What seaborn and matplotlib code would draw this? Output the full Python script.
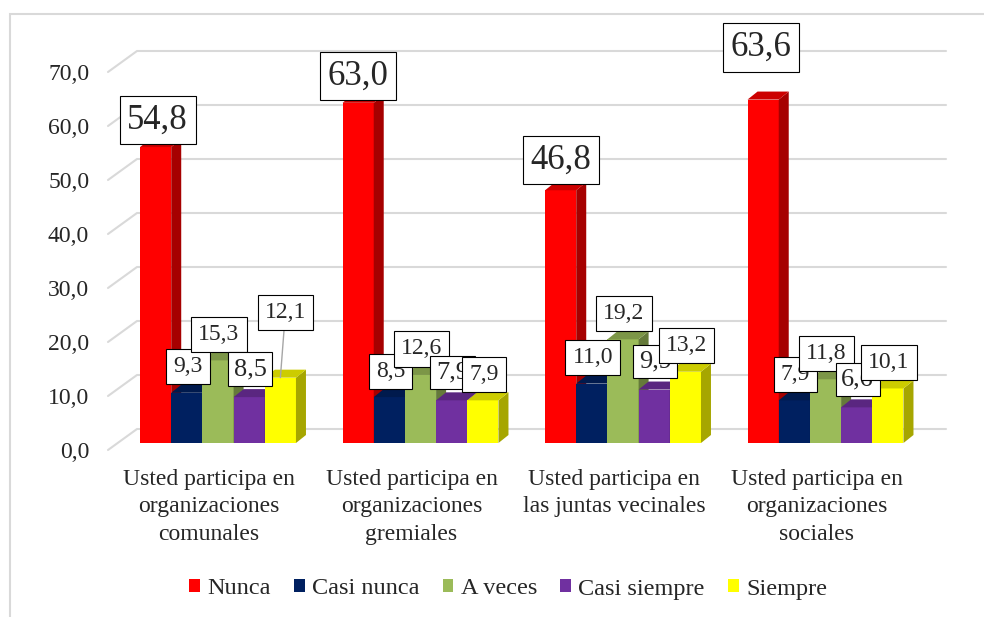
import numpy as np
import pandas as pd
import matplotlib
matplotlib.use('Agg')
import matplotlib.pyplot as plt
import seaborn as sns
from matplotlib.patches import Polygon, Patch, Rectangle
from matplotlib.transforms import ScaledTranslation

# data
items = ["Usted participa en\norganizaciones\ncomunales",
         "Usted participa en\norganizaciones\ngremiales",
         "Usted participa en\nlas juntas vecinales",
         "Usted participa en\norganizaciones\nsociales"]
responses = ["Nunca", "Casi nunca", "A veces", "Casi siempre", "Siempre"]
nunca = [54.8, 63.0, 46.8, 63.6]
casi_nunca = [9.3, 8.5, 11.0, 7.9]
a_veces = [15.3, 12.6, 19.2, 11.8]
casi_siempre = [8.5, 7.9, 9.9, 6.6]
siempre = [12.1, 7.9, 13.2, 10.1]
yticks = [0, 10, 20, 30, 40, 50, 60, 70]

colors = ["#FF0000", "#002060", "#9BBB59", "#7030A0", "#FFFF00"]

series = [nunca, casi_nunca, a_veces, casi_siempre, siempre]
rows = []
for r, vals in zip(responses, series):
    for it, v in zip(items, vals):
        rows.append({"item": it, "resp": r, "pct": v})
df = pd.DataFrame(rows)

sns.set_style("white")
plt.rcParams['font.family'] = ['Liberation Serif', 'DejaVu Serif']

fig = plt.figure(figsize=(9.84, 6.17), dpi=100)
ax = fig.add_axes([108/984, (617-443)/617, 838/984, 378/617])

sns.barplot(data=df, x="item", y="pct", hue="resp", order=items, hue_order=responses,
            palette=colors, saturation=1, width=0.77, errorbar=None, linewidth=0,
            legend=False, ax=ax)

ax.set_xlim(-0.5432, 3.595)
ax.set_ylim(0, 70)
sns.despine(ax=ax, left=True, bottom=True)
ax.set_xlabel("")
ax.set_ylabel("")
ax.set_yticks(yticks)
ax.set_yticklabels([f"{v:.1f}".replace('.', ',') for v in yticks])
ax.tick_params(axis='y', length=0, pad=13.5, labelsize=17)
ax.tick_params(axis='x', length=0, pad=19, labelsize=17)
for lab in ax.get_xticklabels():
    lab.set_linespacing(1.38)
    lab.set_transform(lab.get_transform() + ScaledTranslation(-9/100, 0, fig.dpi_scale_trans))
for lab in ax.get_yticklabels():
    lab.set_transform(lab.get_transform() + ScaledTranslation(0, -7/100, fig.dpi_scale_trans))

# pixel -> data scale
p0 = ax.transData.transform((0, 0))
p1 = ax.transData.transform((1, 1))
ppx = p1[0] - p0[0]
ppy = p1[1] - p0[1]
x0, x1 = ax.get_xlim()

# 3d-ish gridlines (front edge, side wall, back wall)
for v in yticks:
    ax.plot([x0, x0 + 29/ppx, x1], [v - 7/ppy, v + 14/ppy, v + 14/ppy],
            color='#D9D9D9', lw=1.5, zorder=0.5, clip_on=False)

# bar depth faces
ddx = 10/ppx
ddy = 8/ppy
for k, cont in enumerate(ax.containers):
    base = np.array(matplotlib.colors.to_rgb(colors[k]))
    side_c = base * 0.65
    top_c = base * 0.8
    for bar in cont:
        bx, bw, bh = bar.get_x(), bar.get_width(), bar.get_height()
        bar.set_zorder(3 + k)
        side = Polygon([(bx + bw, 0), (bx + bw, bh), (bx + bw + ddx, bh + ddy), (bx + bw + ddx, ddy)],
                       closed=True, fc=side_c, ec='none', zorder=3 + k, clip_on=False)
        top = Polygon([(bx, bh), (bx + bw, bh), (bx + bw + ddx, bh + ddy), (bx + ddx, bh + ddy)],
                      closed=True, fc=top_c, ec='none', zorder=3 + k, clip_on=False)
        ax.add_patch(side)
        ax.add_patch(top)

# data labels
label_sizes = [25, 17, 17, 19, 17]
label_pads = [0.22, 0.3, 0.3, 0.22, 0.3]
special = {(0, 0): (2, 27), (0, 1): (0, 27), (0, 2): (0, 30), (0, 3): (-2, 52), (4, 0): (5, 65)}
for k, cont in enumerate(ax.containers):
    for bar in cont:
        cx = bar.get_x() + bar.get_width() / 2
        g = int(round(cx))
        h = bar.get_height()
        dx, dy = special.get((k, g), (1, 28 if k == 3 else 26))
        txt = f"{h:.1f}".replace('.', ',')
        kw = {}
        if (k, g) == (4, 0):
            kw['arrowprops'] = dict(arrowstyle='-', color='#A6A6A6', lw=1, shrinkA=0, shrinkB=0)
        ax.annotate(txt, xy=(cx, h), xytext=(dx, dy), textcoords='offset pixels',
                    ha='center', va='center', fontsize=label_sizes[k], zorder=10 + k,
                    bbox=dict(boxstyle=f'square,pad={label_pads[k]}', fc='white', ec='black', lw=0.8),
                    annotation_clip=False, **kw)

# legend
handles = [Patch(facecolor=c, edgecolor='none', label=r) for c, r in zip(colors, responses)]
fig.legend(handles=handles, loc='center', bbox_to_anchor=(508/984, 1 - 589/617), ncol=5,
           frameon=False, fontsize=17.5, handlelength=0.45, handleheight=0.45,
           handletextpad=0.3, columnspacing=0.95)

# chart border
fig.add_artist(Rectangle((10/984, -0.1), 1.2, 1 - 14/617 + 0.1, transform=fig.transFigure,
                         fill=False, ec='#D9D9D9', lw=1.5))

fig.savefig('out.png', dpi=100)
